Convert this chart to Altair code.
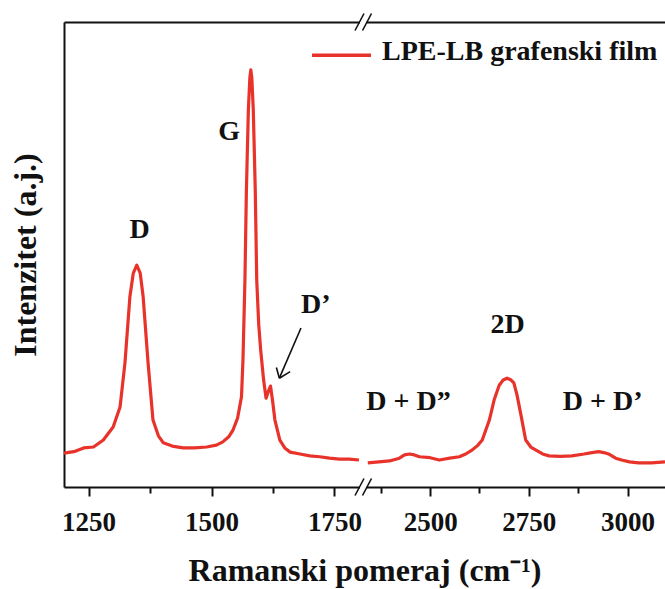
import altair as alt
import pandas as pd

# Raman spectrum of the LPE-LB graphene film, two windows of the shift axis
shift_low = [1200, 1220, 1240, 1260, 1280, 1300, 1314, 1324, 1334, 1341,
             1348, 1355, 1361, 1371, 1381, 1392, 1402, 1420, 1442, 1465,
             1490, 1510, 1523, 1535, 1544, 1553, 1561, 1564, 1568, 1571,
             1575, 1578, 1580, 1582, 1585, 1589, 1592, 1596, 1600, 1606,
             1611, 1615, 1620, 1624, 1629, 1639, 1649, 1660, 1680, 1700,
             1720, 1740, 1760, 1780, 1800]
int_low = [7.3, 7.6, 8.4, 8.6, 10.1, 12.9, 17.2, 26.7, 40.9, 46.0,
           47.7, 46.0, 40.9, 26.7, 14.4, 11.0, 9.5, 8.8, 8.4, 8.4,
           8.6, 9.0, 9.7, 10.8, 12.3, 14.8, 19.4, 27.3, 44.5, 63.9,
           81.1, 88.0, 89.7, 88.0, 81.1, 63.9, 44.5, 35.0, 29.5, 23.0,
           19.1, 20.4, 21.7, 18.7, 14.4, 10.1, 8.4, 7.5, 7.1, 6.7,
           6.5, 6.2, 6.0, 6.0, 5.8]

shift_high = [2342, 2370, 2397, 2422, 2435, 2448, 2460, 2473, 2500, 2523,
              2550, 2574, 2590, 2607, 2620, 2632, 2650, 2662, 2675, 2685,
              2695, 2705, 2712, 2720, 2730, 2742, 2755, 2767, 2785, 2801,
              2830, 2859, 2890, 2910, 2927, 2940, 2952, 2970, 2985, 3005,
              3028, 3060, 3095]
int_high = [5.2, 5.4, 5.6, 6.2, 6.9, 7.1, 6.9, 6.5, 6.3, 5.8,
            6.2, 6.5, 7.1, 8.0, 8.9, 10.1, 14.4, 18.7, 21.9, 23.0,
            23.4, 23.0, 22.4, 19.8, 15.5, 10.1, 8.6, 8.0, 7.1, 6.7,
            6.6, 6.7, 7.1, 7.4, 7.6, 7.4, 7.1, 6.2, 5.8, 5.4,
            5.2, 5.2, 5.4]

# band names and where they are written
band_labels = ["D", "G", "D\u2019", "2D", "D + D\u201d", "D + D\u2019"]
band_shift = [1354, 1536, 1712, 2696, 2445, 2937]
band_level = [55.3, 76.3, 39.1, 34.8, 18.3, 18.3]

# arrow pointing at the D' shoulder: tail, tip and the two barb ends
arrow_tail = (1682, 34.2)
arrow_tip = (1638, 23.4)
arrow_barbs = [(1632, 25.7), (1660, 24.8)]

major_ticks = [1250, 1500, 1750, 2500, 2750, 3000]
minor_ticks = [1375, 1625, 2375, 2625, 2875]

series_name = "LPE-LB grafenski film"

FONT = "Liberation Serif"
RED = "#e8332b"
INK = "#111111"
W, H = 601, 465

spectrum = pd.DataFrame({
    "shift": shift_low + shift_high,
    "intensity": int_low + int_high,
    "window": ["low"] * len(shift_low) + ["high"] * len(shift_high),
})
bands = pd.DataFrame({"label": band_labels, "shift": band_shift, "level": band_level})
arrow = pd.DataFrame({
    "x": [arrow_tail[0]] + [arrow_tip[0]] * len(arrow_barbs),
    "y": [arrow_tail[1]] + [arrow_tip[1]] * len(arrow_barbs),
    "x2": [arrow_tip[0]] + [b[0] for b in arrow_barbs],
    "y2": [arrow_tip[1]] + [b[1] for b in arrow_barbs],
})
minor = pd.DataFrame({"shift": minor_ticks})
one = pd.DataFrame({"k": [0]})

# broken shift axis: piecewise linear scale with a narrow gap between windows
x_scale = alt.Scale(domain=[1200, 1800, 2340, 3095], range=[0, 295, 303, W],
                    nice=False, zero=False)
y_scale = alt.Scale(domain=[0, 100], nice=False, zero=False)

line = alt.Chart(spectrum).mark_line(color=RED, strokeWidth=3.2, strokeJoin="round").encode(
    x=alt.X("shift:Q", scale=x_scale,
            axis=alt.Axis(orient="bottom", values=major_ticks, format="d", grid=False,
                          domainColor=INK, domainWidth=2, tickColor=INK, tickWidth=2,
                          tickSize=9, labelFont=FONT, labelFontSize=27,
                          labelFontWeight="bold", labelColor=INK, labelPadding=13,
                          labelFlush=False, labelOverlap=False,
                          title="Ramanski pomeraj (cm\u207b\u00b9)", titleFont=FONT,
                          titleFontSize=32, titleFontWeight="bold", titleColor=INK,
                          titlePadding=20)),
    y=alt.Y("intensity:Q", scale=y_scale,
            axis=alt.Axis(orient="left", labels=False, ticks=False, grid=False,
                          domainColor=INK, domainWidth=2,
                          title="Intenzitet (a.j.)", titleFont=FONT, titleFontSize=32,
                          titleFontWeight="bold", titleColor=INK, titlePadding=22)),
    detail="window:N",
)

minor_axis = alt.Chart(minor).mark_point(opacity=0).encode(
    x=alt.X("shift:Q", scale=x_scale,
            axis=alt.Axis(orient="bottom", values=minor_ticks, labels=False, domain=False,
                          grid=False, tickColor=INK, tickWidth=2, tickSize=6, title=None)),
)

top_axis = alt.Chart(minor).mark_point(opacity=0).encode(
    x=alt.X("shift:Q", scale=x_scale,
            axis=alt.Axis(orient="top", labels=False, ticks=False, grid=False,
                          domainColor=INK, domainWidth=2, title=None)),
)

band_text = alt.Chart(bands).mark_text(
    font=FONT, fontSize=28, fontWeight="bold", color=INK, baseline="middle", align="center"
).encode(
    x=alt.X("shift:Q", scale=x_scale, axis=None),
    y=alt.Y("level:Q", scale=y_scale, axis=None),
    text="label:N",
)

arrow_layer = alt.Chart(arrow).mark_rule(color=INK, strokeWidth=1.6).encode(
    x=alt.X("x:Q", scale=x_scale, axis=None),
    y=alt.Y("y:Q", scale=y_scale, axis=None),
    x2="x2:Q",
    y2="y2:Q",
)


def px_rule(x1, y1, x2, y2, color=INK, width=1.6):
    return alt.Chart(one).mark_rule(color=color, strokeWidth=width).encode(
        x=alt.value(x1), y=alt.value(y1), x2=alt.value(x2), y2=alt.value(y2))


# "//" break marks on the top and bottom frame lines
breaks = []
for yc in (0, H):
    breaks.append(px_rule(296, yc, 302.5, yc, color="white", width=4))
    breaks.append(px_rule(291, yc + 8.5, 300, yc - 8.5))
    breaks.append(px_rule(298.5, yc + 8.5, 307.5, yc - 8.5))

# legend entry
legend_line = px_rule(248, 33.3, 307, 33.3, color=RED, width=3.5)
legend_text = alt.Chart(one).mark_text(
    font=FONT, fontSize=28, fontWeight="bold", color=INK, align="left", baseline="alphabetic"
).encode(x=alt.value(318), y=alt.value(37.5), text=alt.value(series_name))

chart = alt.layer(
    top_axis, minor_axis, line, band_text, arrow_layer, legend_line, legend_text, *breaks
).resolve_axis(x="independent", y="independent").properties(
    width=W, height=H,
    autosize=alt.AutoSizeParams(type="none"),
    padding={"left": 64, "top": 22, "right": 0, "bottom": 102},
    background="white",
).configure_view(strokeWidth=0)

chart.save("out.html", embed_options={"renderer": "svg", "actions": False})
